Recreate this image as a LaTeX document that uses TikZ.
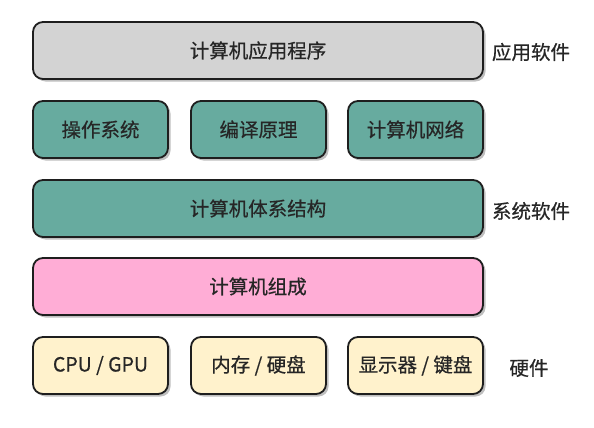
\documentclass[tikz,border=0pt]{standalone}
\usepackage{fontspec}
\setmainfont{Noto Sans CJK SC}[FakeBold=0.6]
\usetikzlibrary{shadows}
\definecolor{appgray}{HTML}{D3D3D3}
\definecolor{systeal}{HTML}{67AB9F}
\definecolor{hwpink}{HTML}{FFADD6}
\definecolor{hwcream}{HTML}{FFF2CC}
\definecolor{edge}{HTML}{1E1E1E}
\definecolor{txt}{HTML}{262626}
\tikzset{
  layer/.style={draw=edge, line width=1.8pt, rounded corners=10pt,
    minimum height=57pt, inner sep=0pt, text=txt,
    font=\fontsize{19.5}{22}\selectfont,
    drop shadow={shadow xshift=2.5pt, shadow yshift=-2.5pt, opacity=0.25, fill=black}},
  wide/.style={layer, minimum width=450pt},
  part/.style={layer, minimum width=135pt},
  tag/.style={text=txt, font=\fontsize{19.5}{22}\selectfont, inner sep=0pt}
}
\begin{document}
\begin{tikzpicture}[x=1pt,y=-1pt]
\useasboundingbox (0,0) rectangle (594,428);
% application layer
\node[wide, fill=appgray] (app) at (258,50.5) {计算机应用程序};
% system software
\node[part, fill=systeal] (os) at (100.5,129.5) {操作系统};
\node[part, fill=systeal] (comp) at (258.5,129.5) {编译原理};
\node[part, fill=systeal] (net) at (415.5,129.5) {计算机网络};
\node[wide, fill=systeal] (arch) at (258,208.5) {计算机体系结构};
% hardware
\node[wide, fill=hwpink] (org) at (258,286.5) {计算机组成};
\node[part, fill=hwcream] (cpu) at (100.5,365.5) {CPU / GPU};
\node[part, fill=hwcream] (mem) at (258.5,365.5) {内存 / 硬盘};
\node[part, fill=hwcream] (io) at (415.5,365.5) {显示器 / 键盘};
% layer names
\node[tag] (tapp) at (531,52) {应用软件};
\node[tag] (tsys) at (531,211) {系统软件};
\node[tag] (thw) at (529,368) {硬件};
\end{tikzpicture}
\end{document}
